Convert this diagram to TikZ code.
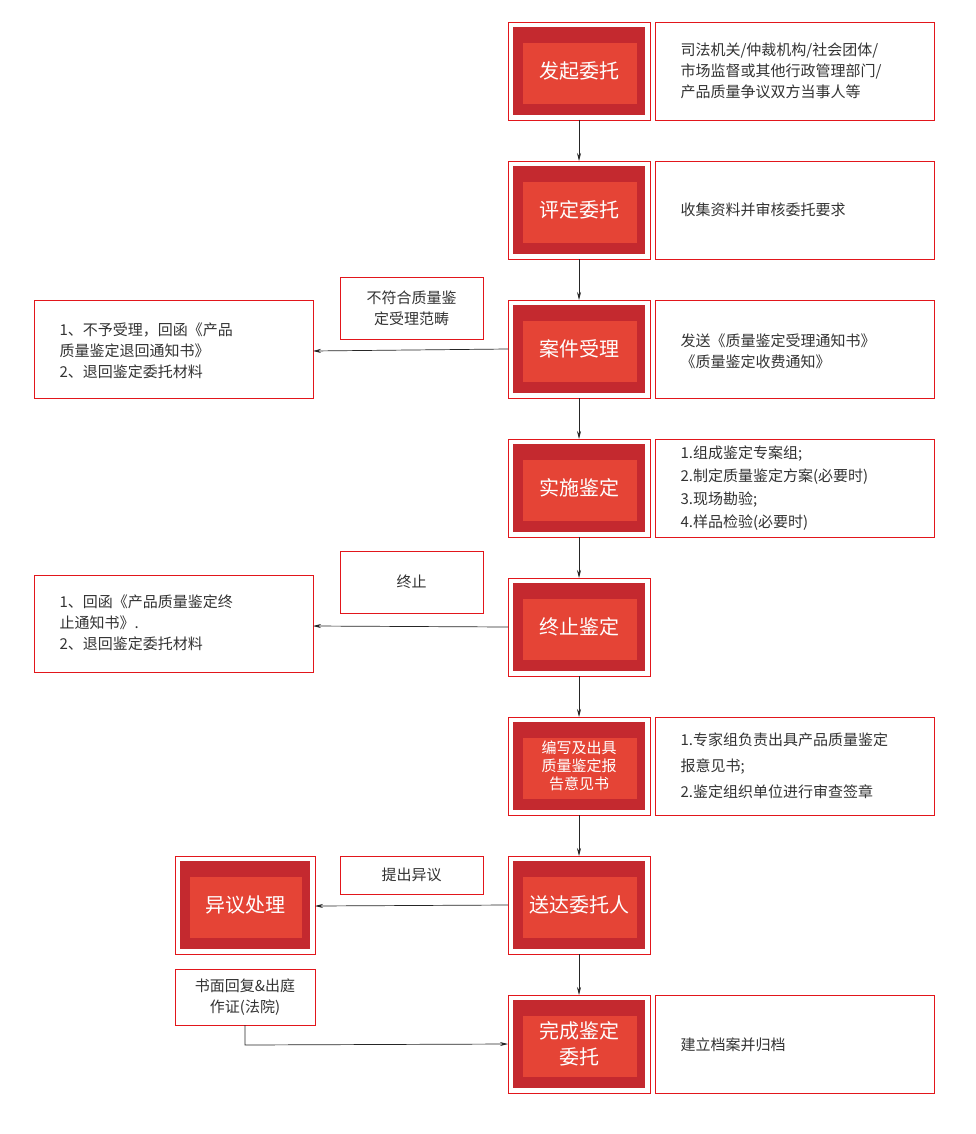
\documentclass[tikz,border=0pt]{standalone}
\usepackage{fontspec}
\setmainfont{Noto Sans CJK SC}
\usetikzlibrary{arrows.meta}
\definecolor{ol}{HTML}{E2161B}
\definecolor{dk}{HTML}{C4292F}
\definecolor{lt}{HTML}{E54436}
\definecolor{tx}{HTML}{333333}
\begin{document}
\begin{tikzpicture}[x=1pt,y=-1pt,
  ln/.style={draw=ol,line width=0.9pt},
  arr/.style={draw=black!85,line width=0.7pt,-{Stealth[length=8pt,width=4pt]}},
  txt/.style={font=\fontsize{15}{21}\selectfont,text=tx,align=left,anchor=west}]
\fill[white] (0,0) rectangle (976,1134);
\useasboundingbox (0,0) rectangle (976,1134);
\newcommand\rbox[6]{% x1 y1 x2 y2 name text
  \draw[ln] (#1,#2) rectangle (#3,#4);
  \fill[dk] (#1+5,#2+5) rectangle (#3-5,#4-5);
  \fill[lt] (#1+15,#2+21) rectangle (#3-13,#4-16);
  \node[text=white,align=center,font=\fontsize{20}{26}\selectfont] (#5) at ({(#1+#3)/2},{(#2+#4)/2}) {#6};
  \coordinate (#5t) at ({(#1+#3)/2},#2);
  \coordinate (#5b) at ({(#1+#3)/2},#4);
  \coordinate (#5l) at (#1,{(#2+#4)/2});}
\rbox{508}{22}{650}{120}{a}{发起委托}
\rbox{508}{161}{650}{259}{b}{评定委托}
\rbox{508}{300}{650}{398}{c}{案件受理}
\rbox{508}{439}{650}{537}{d}{实施鉴定}
\rbox{508}{578}{650}{676}{e}{终止鉴定}
\draw[ln] (508,717) rectangle (650,815);
\fill[dk] (513,722) rectangle (645,810);
\fill[lt] (523,738) rectangle (637,799);
\node[text=white,align=center,font=\fontsize{15}{18}\selectfont] (f) at (579,766) {编写及出具\\质量鉴定报\\告意见书};
\coordinate (ft) at (579,717); \coordinate (fb) at (579,815);
\rbox{508}{856}{650}{954}{g}{送达委托人}
\rbox{508}{995}{650}{1093}{h}{完成鉴定\\委托}
\rbox{175}{856}{315}{954}{y}{异议处理}
% right text boxes
\draw[ln] (655,22) rectangle (934,120);
\node[txt] (r1) at (677,71) {司法机关/仲裁机构/社会团体/\\市场监督或其他行政管理部门/\\产品质量争议双方当事人等};
\draw[ln] (655,161) rectangle (934,259);
\node[txt] (r2) at (677,210) {收集资料并审核委托要求};
\draw[ln] (655,300) rectangle (934,398);
\node[txt] (r3) at (677,351) {发送《质量鉴定受理通知书》\\《质量鉴定收费通知》};
\draw[ln] (655,439) rectangle (934,537);
\node[txt,font=\fontsize{15}{23}\selectfont] (r4) at (677,488) {1.组成鉴定专案组;\\2.制定质量鉴定方案(必要时)\\3.现场勘验;\\4.样品检验(必要时)};
\draw[ln] (655,717) rectangle (934,815);
\node[txt,font=\fontsize{15}{26}\selectfont] (r6) at (677,766) {1.专家组负责出具产品质量鉴定\\报意见书;\\2.鉴定组织单位进行审查签章};
\draw[ln] (655,995) rectangle (934,1093);
\node[txt] (r8) at (677,1045) {建立档案并归档};
% left boxes
\draw[ln] (34,300) rectangle (313,398);
\node[txt] (l1) at (56,351) {1、不予受理，回函《产品\\质量鉴定退回通知书》\\2、退回鉴定委托材料};
\draw[ln] (34,575) rectangle (313,672);
\node[txt] (l2) at (56,623) {1、回函《产品质量鉴定终\\止通知书》.\\2、退回鉴定委托材料};
\coordinate (l1r) at (313,351); \coordinate (l2r) at (313,626); \coordinate (yr) at (315,906);
% labels
\draw[ln] (340,277) rectangle (483,339);
\node[font=\fontsize{15}{21}\selectfont,text=tx,align=center] (k1) at (411.5,308) {不符合质量鉴\\定受理范畴};
\draw[ln] (340,551) rectangle (483,613);
\node[font=\fontsize{15}{21}\selectfont,text=tx] (k2) at (411.5,582) {终止};
\draw[ln] (340,856) rectangle (483,894);
\node[font=\fontsize{15}{21}\selectfont,text=tx] (k3) at (411.5,875) {提出异议};
\draw[ln] (175,969) rectangle (315,1025);
\node[font=\fontsize{15}{21}\selectfont,text=tx,align=center] (k4) at (245,997) {书面回复\&出庭\\作证(法院)};
\coordinate (k4b) at (245,1025); \coordinate (k4c) at (245,1045);
% arrows
\draw[arr] (ab) -- (bt);
\draw[arr] (bb) -- (ct);
\draw[arr] (cb) -- (dt);
\draw[arr] (db) -- (et);
\draw[arr] (eb) -- (ft);
\draw[arr] (fb) -- (gt);
\draw[arr] (gb) -- (ht);
\draw[arr] (cl) -- (l1r);
\draw[arr] (el) -- (l2r);
\draw[arr] (gl) -- (yr);
\draw[arr] (k4b) -- (k4c) -- (hl);
\end{tikzpicture}
\end{document}
